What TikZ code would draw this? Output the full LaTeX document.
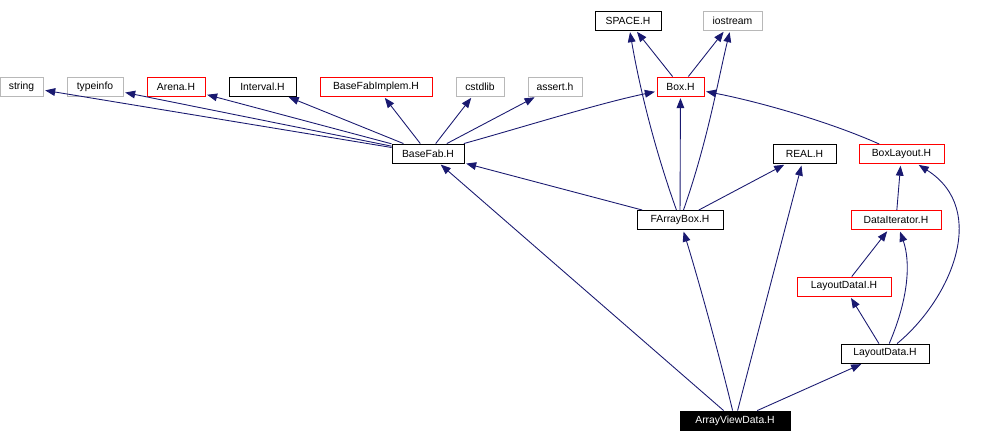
\documentclass[tikz,border=0pt]{standalone}
\usepackage{fontspec}
\setmainfont{Liberation Sans}
\usepackage{xcolor}
\usetikzlibrary{arrows.meta}
\definecolor{navy}{HTML}{191970}

\begin{document}
\begin{tikzpicture}[x=0.02cm, y=0.02cm]
    % one unit is one pixel of the include graph, y counted downwards as -y
    \tikzstyle{hdr} = [rectangle, draw=black, fill=white, minimum height=0.38cm,
        inner sep=0pt, line width=0.5pt, font=\fontsize{5.9}{7}\selectfont]
    \tikzstyle{sys} = [hdr, draw=black!28]
    \tikzstyle{trunc} = [hdr, draw=red]
    \tikzstyle{root} = [hdr, fill=black, text=white]
    \tikzstyle{dep} = [line width=0.5pt, draw=navy,
        -{Triangle[length=5.7pt, width=4.4pt]}, shorten >=1pt]

    \useasboundingbox (0,0) rectangle (994,-442);

    % top rows
    \node (string) [sys, minimum width=0.86cm] at (21.5,-86.5) {string};
    \node (typeinfo) [sys, minimum width=1.12cm] at (95,-86.5) {typeinfo};
    \node (arena) [trunc, minimum width=1.16cm] at (176,-86.5) {Arena.H};
    \node (interval) [hdr, minimum width=1.34cm] at (262.5,-86.5) {Interval.H};
    \node (implem) [trunc, minimum width=2.24cm] at (376,-86.5) {BaseFabImplem.H};
    \node (cstdlib) [sys, minimum width=0.96cm] at (480,-86.5) {cstdlib};
    \node (assert) [sys, minimum width=1.08cm] at (555,-86.5) {assert.h};
    \node (space) [hdr, minimum width=1.32cm] at (628,-20.5) {SPACE.H};
    \node (iostream) [sys, minimum width=1.18cm] at (732.5,-20.5) {iostream};
    \node (box) [trunc, minimum width=0.94cm] at (680.5,-86.5) {Box.H};

    % middle
    \node (basefab) [hdr, minimum width=1.44cm] at (428,-153.5) {BaseFab.H};
    \node (real) [hdr, minimum width=1.26cm] at (804.5,-154) {REAL.H};
    \node (boxlayout) [trunc, minimum width=1.70cm] at (901.5,-154) {BoxLayout.H};
    \node (farraybox) [hdr, minimum width=1.72cm] at (680,-220) {FArrayBox.H};
    \node (dataiter) [trunc, minimum width=1.80cm] at (896,-220) {DataIterator.H};
    \node (layoutdatai) [trunc, minimum width=1.88cm] at (844,-286.5) {LayoutDataI.H};
    \node (layoutdata) [hdr, minimum width=1.76cm] at (885,-353.5) {LayoutData.H};
    \node (arrayview) [root, minimum width=2.20cm] at (735,-420.5) {ArrayViewData.H};

    \foreach \inc in {string, typeinfo, arena, interval, implem, cstdlib, assert}
        \draw [dep] (basefab) -- (\inc);
    \draw [dep] (basefab) .. controls (520,-128) and (600,-103) .. (box);

    \draw [dep] (box) -- (space);
    \draw [dep] (box) -- (iostream);

    \draw [dep] (farraybox) -- (basefab);
    \draw [dep] (farraybox) .. controls (655,-150) and (640,-90) .. (space);
    \draw [dep] (farraybox) -- (box);
    \draw [dep] (farraybox) .. controls (708,-140) and (718,-80) .. (iostream);
    \draw [dep] (farraybox) -- (real);

    \draw [dep] (boxlayout) .. controls (830,-122) and (760,-102) .. (box);
    \draw [dep] (dataiter) -- (boxlayout);
    \draw [dep] (layoutdatai) -- (dataiter);

    \draw [dep] (layoutdata) -- (layoutdatai);
    \draw [dep] (layoutdata) .. controls (910,-295) and (910,-260) .. (dataiter);
    \draw [dep] (layoutdata) .. controls (950,-300) and (990,-210) .. (boxlayout);

    \draw [dep] (arrayview) -- (basefab);
    \draw [dep] (arrayview) .. controls (718,-350) and (697,-275) .. (farraybox);
    \draw [dep] (arrayview) -- (real);
    \draw [dep] (arrayview) -- (layoutdata);
\end{tikzpicture}
\end{document}
